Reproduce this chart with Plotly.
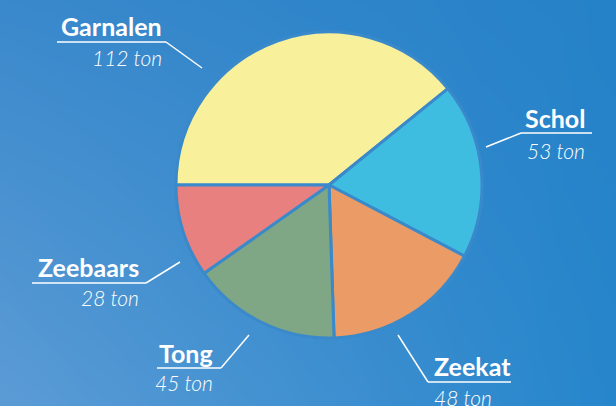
import base64, struct, zlib
import numpy as np
import plotly.graph_objects as go

# ---- data ----
categories = ["Garnalen", "Schol", "Zeekat", "Tong", "Zeebaars"]
values = [112, 53, 48, 45, 28]
value_labels = ["112 ton", "53 ton", "48 ton", "45 ton", "28 ton"]
colors = ["#f8f09a", "#3fbde0", "#eb9b65", "#7fa685", "#e88080"]

W, H = 616, 406

# ---- background gradient as PNG ----
def make_png(w, h):
    yy, xx = np.mgrid[0:h, 0:w]
    u = xx / (w - 1)
    v = yy / (h - 1)
    tl = np.array([58, 137, 204.0])
    tr = np.array([38, 130, 200.0])
    bl = np.array([92, 156, 214.0])
    br = np.array([38, 134, 204.0])
    img = ((1 - u)[..., None] * (1 - v)[..., None] * tl + u[..., None] * (1 - v)[..., None] * tr
           + (1 - u)[..., None] * v[..., None] * bl + u[..., None] * v[..., None] * br)
    img = np.clip(img, 0, 255).astype(np.uint8)
    raw = b"".join(b"\x00" + img[r].tobytes() for r in range(h))
    def chunk(t, d):
        c = struct.pack(">I", len(d)) + t + d
        return c + struct.pack(">I", zlib.crc32(t + d) & 0xffffffff)
    png = b"\x89PNG\r\n\x1a\n" + chunk(b"IHDR", struct.pack(">IIBBBBB", w, h, 8, 2, 0, 0, 0))
    png += chunk(b"IDAT", zlib.compress(raw, 9)) + chunk(b"IEND", b"")
    return "data:image/png;base64," + base64.b64encode(png).decode()

def px(x):
    return x / W

def py(y):
    return 1 - y / H

cx, cy, r = 329, 185, 153

fig = go.Figure(go.Pie(
    labels=categories, values=values, sort=False, direction="clockwise", rotation=270,
    marker=dict(colors=colors, line=dict(color="#3a8acb", width=3)),
    textinfo="none", hoverinfo="skip", showlegend=False,
    domain=dict(x=[px(cx - r), px(cx + r)], y=[py(cy + r), py(cy - r)]),
))

# label layout: (anchor, text x, name y, value y, underline x0, x1, underline y, leader end)
label_pos = [
    ("right", 164, 26, 57, 57, 166, 42, (202, 68)),
    ("right", 587, 118, 150, 521, 592, 133, (486, 147)),
    ("left", 432, 366, 397, 428, 511, 382, (398, 335)),
    ("right", 215, 353, 382, 157, 221, 368, (249, 335)),
    ("right", 141, 267, 297, 32, 146, 283, (180, 262)),
]

shapes = []
annotations = []
for name, val, (anchor, tx, ny, vy, ux0, ux1, uy, (lx, ly)) in zip(categories, value_labels, label_pos):
    annotations.append(dict(x=px(tx), y=py(ny), xref="paper", yref="paper", text=name,
                            showarrow=False, xanchor=anchor, yanchor="middle",
                            font=dict(family="Lato", size=25, color="white", weight="bold")))
    annotations.append(dict(x=px(tx), y=py(vy), xref="paper", yref="paper", text=val,
                            showarrow=False, xanchor=anchor, yanchor="middle",
                            font=dict(family="Lato", size=21, color="white", style="italic", weight=300)))
    shapes.append(dict(type="line", xref="paper", yref="paper", x0=px(ux0), x1=px(ux1),
                       y0=py(uy), y1=py(uy), line=dict(color="white", width=1.5)))
    jx = ux1 if lx > ux1 else ux0
    shapes.append(dict(type="line", xref="paper", yref="paper", x0=px(jx), x1=px(lx),
                       y0=py(uy), y1=py(ly), line=dict(color="white", width=1.5)))

fig.update_layout(
    width=W, height=H, margin=dict(l=0, r=0, t=0, b=0),
    paper_bgcolor="#3a88cc", plot_bgcolor="#3a88cc",
    images=[dict(source=make_png(W, H), xref="paper", yref="paper", x=0, y=1,
                 sizex=1, sizey=1, sizing="stretch", layer="below", xanchor="left", yanchor="top")],
    shapes=shapes, annotations=annotations,
)
fig.write_html("out.html", config={"displayModeBar": False},
               post_script="document.body.style.margin='0';document.body.style.overflow='hidden';")
